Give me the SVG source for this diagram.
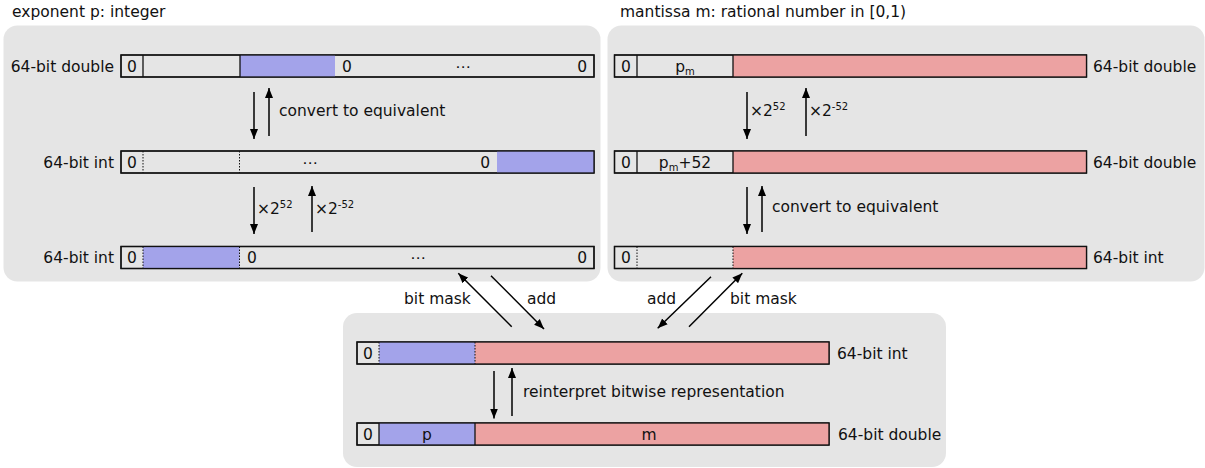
<svg xmlns="http://www.w3.org/2000/svg" width="1205" height="468" viewBox="0 0 1205 468">
<defs>
<marker id="ah" markerUnits="userSpaceOnUse" markerWidth="11" markerHeight="9" refX="10" refY="4" orient="auto" viewBox="0 0 11 8">
<path d="M0,0 L10,4 L0,8 z" fill="#000"/>
</marker>
<style>
text{font-family:"DejaVu Sans","Liberation Sans",sans-serif;font-size:15.5px;fill:#111}
.panel{fill:#e5e5e5}
.cell{fill:#e5e5e5;stroke:#111;stroke-width:1.3}
.blue{fill:#a3a3ea}
.pink{fill:#eca2a2}
.frame{fill:none;stroke:#111;stroke-width:1.3}
.sd{stroke:#111;stroke-width:1.3}
.dt{stroke:#111;stroke-width:1;stroke-dasharray:1.5 1.5}
.arr{stroke:#000;stroke-width:1.5;fill:none;marker-end:url(#ah)}
.mid{text-anchor:middle}
.end{text-anchor:end}
.sup{font-size:10px}
</style>
</defs>

<g id="panels">
<rect class="panel" x="3.5" y="25.5" width="597" height="256" rx="14"/>
<rect class="panel" x="607.5" y="25.5" width="597" height="256" rx="14"/>
<rect class="panel" x="343" y="313" width="603" height="154" rx="14"/>
</g>

<text x="12" y="17">exponent p: integer</text>
<text x="620" y="17">mantissa m: rational number in [0,1)</text>

<g id="exp-double">
<rect class="cell" x="121" y="55" width="473" height="22"/>
<rect class="blue" x="240" y="55" width="95" height="22"/>
<line class="sd" x1="143" y1="55" x2="143" y2="77"/>
<line class="sd" x1="240" y1="55" x2="240" y2="77"/>
<rect class="frame" x="121" y="55" width="473" height="22"/>
<text class="end" x="114" y="71.5">64-bit double</text>
<text class="mid" x="132" y="71.5">0</text>
<text x="342" y="71.5">0</text>
<text class="mid" x="463" y="71.5">⋯</text>
<text class="end" x="587" y="71.5">0</text>
</g>

<g id="exp-int1">
<rect class="cell" x="121" y="151" width="473" height="22"/>
<rect class="blue" x="497" y="151" width="97" height="22"/>
<line class="dt" x1="143" y1="151" x2="143" y2="173"/>
<line class="dt" x1="239.5" y1="151" x2="239.5" y2="173"/>
<rect class="frame" x="121" y="151" width="473" height="22"/>
<text class="end" x="114" y="167.5">64-bit int</text>
<text class="mid" x="132" y="167.5">0</text>
<text class="mid" x="310" y="167.5">⋯</text>
<text class="end" x="490" y="167.5">0</text>
</g>

<g id="exp-int2">
<rect class="cell" x="121" y="246.5" width="473" height="22"/>
<rect class="blue" x="143" y="246.5" width="96.5" height="22"/>
<line class="dt" x1="143" y1="246.5" x2="143" y2="268.5"/>
<line class="dt" x1="239.5" y1="246.5" x2="239.5" y2="268.5"/>
<rect class="frame" x="121" y="246.5" width="473" height="22"/>
<text class="end" x="114" y="263">64-bit int</text>
<text class="mid" x="132" y="263">0</text>
<text x="247" y="263">0</text>
<text class="mid" x="418" y="263">⋯</text>
<text class="end" x="587" y="263">0</text>
</g>

<g id="man-double1">
<rect class="cell" x="614.5" y="55" width="472" height="22"/>
<rect class="pink" x="733" y="55" width="353.5" height="22"/>
<line class="sd" x1="637" y1="55" x2="637" y2="77"/>
<line class="sd" x1="733" y1="55" x2="733" y2="77"/>
<rect class="frame" x="614.5" y="55" width="472" height="22"/>
<text class="mid" x="626" y="71.5">0</text>
<text class="mid" x="685" y="71.5">p<tspan class="sup" dy="3">m</tspan></text>
<text x="1093" y="71.5">64-bit double</text>
</g>

<g id="man-double2">
<rect class="cell" x="614.5" y="151" width="472" height="22"/>
<rect class="pink" x="733" y="151" width="353.5" height="22"/>
<line class="sd" x1="637" y1="151" x2="637" y2="173"/>
<line class="sd" x1="733" y1="151" x2="733" y2="173"/>
<rect class="frame" x="614.5" y="151" width="472" height="22"/>
<text class="mid" x="626" y="167.5">0</text>
<text class="mid" x="685" y="167.5">p<tspan class="sup" dy="3">m</tspan><tspan dy="-3">+52</tspan></text>
<text x="1093" y="167.5">64-bit double</text>
</g>

<g id="man-int">
<rect class="cell" x="614.5" y="246.5" width="472" height="22"/>
<rect class="pink" x="733" y="246.5" width="353.5" height="22"/>
<line class="dt" x1="637" y1="246.5" x2="637" y2="268.5"/>
<line class="dt" x1="733" y1="246.5" x2="733" y2="268.5"/>
<rect class="frame" x="614.5" y="246.5" width="472" height="22"/>
<text class="mid" x="626" y="263">0</text>
<text x="1093" y="263">64-bit int</text>
</g>

<g id="res-int">
<rect class="cell" x="357" y="342" width="472" height="22"/>
<rect class="blue" x="379" y="342" width="96" height="22"/>
<rect class="pink" x="475" y="342" width="354" height="22"/>
<line class="dt" x1="379" y1="342" x2="379" y2="364"/>
<line class="dt" x1="475" y1="342" x2="475" y2="364"/>
<rect class="frame" x="357" y="342" width="472" height="22"/>
<text class="mid" x="368" y="358.5">0</text>
<text x="837" y="358.5">64-bit int</text>
</g>

<g id="res-double">
<rect class="cell" x="357" y="423" width="472" height="22"/>
<rect class="blue" x="379" y="423" width="96" height="22"/>
<rect class="pink" x="475" y="423" width="354" height="22"/>
<line class="sd" x1="379" y1="423" x2="379" y2="445"/>
<line class="sd" x1="475" y1="423" x2="475" y2="445"/>
<rect class="frame" x="357" y="423" width="472" height="22"/>
<text class="mid" x="368" y="439.5">0</text>
<text class="mid" x="427" y="439.5">p</text>
<text class="mid" x="649" y="439.5">m</text>
<text x="838" y="439.5">64-bit double</text>
</g>

<g id="connectors">
<line class="arr" x1="254" y1="92" x2="254" y2="139"/>
<line class="arr" x1="269" y1="136" x2="269" y2="88"/>
<text x="279" y="116">convert to equivalent</text>

<line class="arr" x1="254" y1="187" x2="254" y2="234"/>
<line class="arr" x1="312" y1="232" x2="312" y2="186"/>
<text x="257" y="214">×2<tspan class="sup" dy="-6">52</tspan></text>
<text x="315" y="214">×2<tspan class="sup" dy="-6">-52</tspan></text>

<line class="arr" x1="747" y1="92" x2="747" y2="139"/>
<line class="arr" x1="806" y1="136" x2="806" y2="88"/>
<text x="750" y="116">×2<tspan class="sup" dy="-6">52</tspan></text>
<text x="809" y="116">×2<tspan class="sup" dy="-6">-52</tspan></text>

<line class="arr" x1="747" y1="187" x2="747" y2="234"/>
<line class="arr" x1="762" y1="232" x2="762" y2="186"/>
<text x="772" y="212">convert to equivalent</text>

<line class="arr" x1="494" y1="371" x2="494" y2="418.5"/>
<line class="arr" x1="512" y1="416" x2="512" y2="368"/>
<text x="523" y="397">reinterpret bitwise representation</text>

<line class="arr" x1="511.7" y1="326.7" x2="458.3" y2="273.3"/>
<line class="arr" x1="491" y1="275.7" x2="544" y2="329"/>
<line class="arr" x1="711" y1="276.7" x2="657.7" y2="328.3"/>
<line class="arr" x1="689" y1="326.7" x2="742.3" y2="273.3"/>
<text x="404" y="304">bit mask</text>
<text x="527" y="304">add</text>
<text x="647" y="304">add</text>
<text x="730" y="304">bit mask</text>
</g>
</svg>
